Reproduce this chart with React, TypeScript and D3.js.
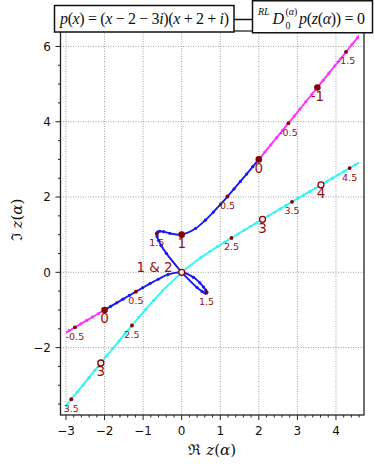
import { useEffect, useRef } from "react";
import * as d3 from "d3";

// roots z(alpha) of  RL D_0^(alpha) p(z) = 0 , stored as [Re z, Im z]
const magentaUpAlpha = [0, -0.1, -0.2, -0.3, -0.4, -0.5, -0.6, -0.7, -0.8, -0.9, -1, -1.1, -1.2, -1.3, -1.4, -1.5, -1.6, -1.7, -1.8];
const magentaUp: [number, number][] = [
  [2, 3], [2.1556, 3.1933], [2.3098, 3.3859], [2.4631, 3.5779], [2.6156, 3.7693], [2.7673, 3.9603],
  [2.9184, 4.1508], [3.0691, 4.3411], [3.2193, 4.5311], [3.3692, 4.7209], [3.5187, 4.9104],
  [3.6679, 5.0998], [3.8169, 5.2889], [3.9656, 5.478], [4.1141, 5.6669], [4.2625, 5.8556],
  [4.4107, 6.0443], [4.5587, 6.2329], [4.7066, 6.4213],
];
const magentaLoAlpha = [0, -0.1, -0.2, -0.3, -0.4, -0.5, -0.6, -0.7];
const magentaLo: [number, number][] = [
  [-2, -1], [-2.1556, -1.0933], [-2.3098, -1.1859], [-2.4631, -1.2779], [-2.6156, -1.3693],
  [-2.7673, -1.4603], [-2.9184, -1.5508], [-3.0691, -1.6411],
];
const blueAlpha = [0, 0.1, 0.2, 0.3, 0.4, 0.5, 0.6, 0.7, 0.8, 0.9, 1, 1.1, 1.2, 1.3, 1.4, 1.5, 1.6, 1.7, 1.8, 1.9, 2];
const blueUp: [number, number][] = [
  [2, 3], [1.8429, 2.8058], [1.6838, 2.6104], [1.5222, 2.4136], [1.3571, 2.2148], [1.1871, 2.0136],
  [1.0099, 1.809], [0.8213, 1.5997], [0.6122, 1.3841], [0.3587, 1.1633], [0, 1],
  [-0.3077, 1.035], [-0.4709, 1.0796], [-0.5669, 1.0909], [-0.6216, 1.0723], [-0.6442, 1.0262],
  [-0.6377, 0.9528], [-0.6009, 0.849], [-0.5274, 0.7068], [-0.3973, 0.5031], [0, 0],
];
const blueLo: [number, number][] = [
  [-2, -1], [-1.8429, -0.9058], [-1.6838, -0.8104], [-1.5222, -0.7136], [-1.3571, -0.6148], [-1.1871, -0.5136],
  [-1.0099, -0.409], [-0.8213, -0.2997], [-0.6122, -0.1841], [-0.3587, -0.0633], [0, 0],
  [0.3077, -0.135], [0.4709, -0.2796], [0.5669, -0.3909], [0.6216, -0.4723], [0.6442, -0.5262],
  [0.6377, -0.5528], [0.6009, -0.549], [0.5274, -0.5068], [0.3973, -0.4031], [0, 0],
];
const cyanUpAlpha = [2, 2.1, 2.2, 2.3, 2.4, 2.5, 2.6, 2.7, 2.8, 2.9, 3, 3.1, 3.2, 3.3, 3.4, 3.5, 3.6, 3.7, 3.8, 3.9, 4, 4.1, 4.2, 4.3, 4.4, 4.5, 4.6, 4.7];
const cyanUp: [number, number][] = [
  [0, 0], [0.4978, 0.392], [0.7336, 0.5543], [0.9333, 0.6858], [1.1164, 0.8032], [1.2901, 0.9127],
  [1.4577, 1.0172], [1.6211, 1.1182], [1.7815, 1.2167], [1.9396, 1.3133], [2.0959, 1.4086],
  [2.2508, 1.5027], [2.4046, 1.5959], [2.5574, 1.6883], [2.7095, 1.7802], [2.861, 1.8715],
  [3.0118, 1.9625], [3.1623, 2.053], [3.3123, 2.1432], [3.462, 2.2332], [3.6113, 2.3229],
  [3.7604, 2.4124], [3.9093, 2.5017], [4.0579, 2.5909], [4.2064, 2.6799], [4.3546, 2.7688],
  [4.5028, 2.8575], [4.6505, 2.9465],
];
const cyanLoAlpha = [2, 2.1, 2.2, 2.3, 2.4, 2.5, 2.6, 2.7, 2.8, 2.9, 3, 3.1, 3.2, 3.3, 3.4, 3.5, 3.6];
const cyanLo: [number, number][] = [
  [0, 0], [-0.4978, -0.492], [-0.7336, -0.7543], [-0.9333, -0.9858], [-1.1164, -1.2032], [-1.2901, -1.4127],
  [-1.4577, -1.6172], [-1.6211, -1.8182], [-1.7815, -2.0167], [-1.9396, -2.2133], [-2.0959, -2.4086],
  [-2.2508, -2.6027], [-2.4046, -2.7959], [-2.5574, -2.9883], [-2.7095, -3.1802], [-2.861, -3.3715],
  [-3.0118, -3.5625],
];

const xTicks = [-3, -2, -1, 0, 1, 2, 3, 4];
const yTicks = [-2, 0, 2, 4, 6];

const magenta = "#ff33ff";
const blue = "#1a1aee";
const cyan = "#33f5f5";
const darkred = "#8b0000";
const labelRed = "#9a0f0f";

function App() {
  const ref = useRef<SVGSVGElement>(null);

  useEffect(() => {
    document.body.style.margin = "0";
    const svg = d3.select(ref.current);
    svg.selectAll("*").remove();

    const left = 60.5, right = 364, top = 31, bottom = 415;
    const x = d3.scaleLinear().domain([-3.142, 4.727]).range([left, right]);
    const y = d3.scaleLinear().domain([-3.79, 6.41]).range([bottom, top]);

    const branches = [
      { name: "magUp", alpha: magentaUpAlpha, pts: magentaUp, color: magenta },
      { name: "magLo", alpha: magentaLoAlpha, pts: magentaLo, color: magenta },
      { name: "blueUp", alpha: blueAlpha, pts: blueUp, color: blue },
      { name: "blueLo", alpha: blueAlpha, pts: blueLo, color: blue },
      { name: "cyanUp", alpha: cyanUpAlpha, pts: cyanUp, color: cyan },
      { name: "cyanLo", alpha: cyanLoAlpha, pts: cyanLo, color: cyan },
    ];
    const at = (name: string, a: number) => {
      const b = branches.find((d) => d.name === name)!;
      const i = b.alpha.findIndex((v) => Math.abs(v - a) < 1e-9);
      return b.pts[i];
    };

    // ####### grid #######
    const grid = svg.append("g").attr("stroke", "#8a8a8a").attr("stroke-width", 0.8).attr("stroke-dasharray", "1,1.5");
    grid.selectAll(".gx").data(xTicks).enter().append("line")
      .attr("x1", (d) => x(d)).attr("x2", (d) => x(d)).attr("y1", top).attr("y2", bottom);
    grid.selectAll(".gy").data(yTicks).enter().append("line")
      .attr("y1", (d) => y(d)).attr("y2", (d) => y(d)).attr("x1", left).attr("x2", right);

    // ####### curves #######
    svg.append("clipPath").attr("id", "clip").append("rect")
      .attr("x", x(-3)).attr("y", top).attr("width", x(4.6) - x(-3)).attr("height", bottom - top);
    const curves = svg.append("g").attr("clip-path", "url(#clip)");
    const line = d3.line<[number, number]>()
      .x((d) => x(d[0])).y((d) => y(d[1]))
      .curve(d3.curveCatmullRom.alpha(0.5));
    branches.forEach((b) => {
      curves.append("path").attr("d", line(b.pts)).attr("fill", "none")
        .attr("stroke", b.color).attr("stroke-width", 1.9);
      curves.selectAll(null).data(b.pts).enter().append("circle")
        .attr("cx", (d) => x(d[0])).attr("cy", (d) => y(d[1])).attr("r", 1.6).attr("fill", b.color);
    });

    // ####### half-integer alpha markers #######
    const marks = svg.append("g");
    branches.forEach((b) => {
      b.alpha.forEach((a, i) => {
        const two = Math.round(a * 2);
        if (Math.abs(two - a * 2) > 1e-9 || two % 2 === 0) return;
        const p = b.pts[i];
        if (p[0] < -3 || p[0] > 4.6) return;
        marks.append("circle").attr("cx", x(p[0])).attr("cy", y(p[1])).attr("r", 1.9).attr("fill", darkred);
        marks.append("text").attr("x", x(p[0])).attr("y", y(p[1]) + 12.5)
          .attr("text-anchor", "middle").attr("font-family", "DejaVu Sans").attr("font-size", 9.5)
          .attr("fill", labelRed).text(String(a));
      });
    });

    // ####### integer alpha markers #######
    const filled: [string, number, string][] = [["magUp", 0, "0"], ["magLo", 0, "0"], ["magUp", -1, "-1"], ["blueUp", 1, "1"]];
    const hollow: [string, number, string][] = [["blueLo", 1, "1 & 2"], ["cyanUp", 3, "3"], ["cyanLo", 3, "3"], ["cyanUp", 4, "4"]];
    filled.forEach(([n, a, t]) => {
      const p = at(n, a);
      marks.append("circle").attr("cx", x(p[0])).attr("cy", y(p[1])).attr("r", 3.3).attr("fill", darkred);
      marks.append("text").attr("x", x(p[0])).attr("y", y(p[1]) + 13.5)
        .attr("text-anchor", "middle").attr("font-family", "DejaVu Sans").attr("font-size", 13.5)
        .attr("fill", labelRed).text(t);
    });
    hollow.forEach(([n, a, t]) => {
      const p = at(n, a);
      marks.append("circle").attr("cx", x(p[0])).attr("cy", y(p[1])).attr("r", 3)
        .attr("fill", "#f0f0f0").attr("stroke", darkred).attr("stroke-width", 1.3);
      const origin = t.includes("&");
      marks.append("text")
        .attr("x", x(p[0]) - (origin ? 9 : 0))
        .attr("y", y(p[1]) + (origin ? -0.5 : 13.5))
        .attr("text-anchor", origin ? "end" : "middle")
        .attr("font-family", "DejaVu Sans").attr("font-size", 13.5)
        .attr("fill", labelRed).text(t);
    });

    // ####### frame + ticks #######
    svg.append("rect").attr("x", left).attr("y", top).attr("width", right - left).attr("height", bottom - top)
      .attr("fill", "none").attr("stroke", "#222").attr("stroke-width", 1.3);
    const tk = svg.append("g").attr("stroke", "#222").attr("stroke-width", 1);
    const xMinor = d3.range(-3, 4.75, 0.2).filter((v) => Math.abs(v - Math.round(v)) > 1e-6);
    const yMinor = d3.range(-3.5, 6.4, 0.5).filter((v) => Math.abs(v / 2 - Math.round(v / 2)) > 1e-6);
    tk.selectAll(".xM").data(xTicks).enter().append("line")
      .attr("x1", (d) => x(d)).attr("x2", (d) => x(d)).attr("y1", bottom).attr("y2", bottom + 5);
    tk.selectAll(".xm").data(xMinor).enter().append("line")
      .attr("x1", (d) => x(d)).attr("x2", (d) => x(d)).attr("y1", bottom).attr("y2", bottom + 2.5);
    tk.selectAll(".yM").data(yTicks).enter().append("line")
      .attr("y1", (d) => y(d)).attr("y2", (d) => y(d)).attr("x1", left).attr("x2", left - 5);
    tk.selectAll(".ym").data(yMinor).enter().append("line")
      .attr("y1", (d) => y(d)).attr("y2", (d) => y(d)).attr("x1", left).attr("x2", left - 2.5);

    const fmt = (v: number) => (v < 0 ? "\u2212" + Math.abs(v) : String(v));
    svg.append("g").selectAll("text").data(xTicks).enter().append("text")
      .attr("x", (d) => x(d)).attr("y", 435).attr("text-anchor", "middle")
      .attr("font-family", "DejaVu Sans").attr("font-size", 12).attr("fill", "#111").text(fmt);
    svg.append("g").selectAll("text").data(yTicks).enter().append("text")
      .attr("x", 51).attr("y", (d) => y(d) + 4.3).attr("text-anchor", "end")
      .attr("font-family", "DejaVu Sans").attr("font-size", 12).attr("fill", "#111").text(fmt);

    // ####### axis labels #######
    const xl = svg.append("text").attr("x", (left + right) / 2).attr("y", 455).attr("text-anchor", "middle")
      .attr("font-family", "DejaVu Serif").attr("font-size", 15).attr("fill", "#111");
    xl.append("tspan").text("\u211C ");
    xl.append("tspan").attr("font-style", "italic").text("z");
    xl.append("tspan").text("(");
    xl.append("tspan").attr("font-style", "italic").text("\u03B1");
    xl.append("tspan").text(")");
    const yl = svg.append("text").attr("transform", "translate(22,220) rotate(-90)").attr("text-anchor", "middle")
      .attr("font-family", "DejaVu Serif").attr("font-size", 15).attr("fill", "#111");
    yl.append("tspan").text("\u2111 ");
    yl.append("tspan").attr("font-style", "italic").text("z");
    yl.append("tspan").text("(");
    yl.append("tspan").attr("font-style", "italic").text("\u03B1");
    yl.append("tspan").text(")");

    // ####### title boxes #######
    svg.append("line").attr("x1", 234).attr("x2", 252).attr("y1", 19.5).attr("y2", 19.5)
      .attr("stroke", "#111").attr("stroke-width", 1.5);
    svg.append("rect").attr("x", 54.5).attr("y", 5.5).attr("width", 179.5).attr("height", 26.5)
      .attr("fill", "white").attr("stroke", "#111").attr("stroke-width", 1.5);
    svg.append("rect").attr("x", 252.5).attr("y", 0.75).attr("width", 120).attr("height", 32)
      .attr("fill", "white").attr("stroke", "#111").attr("stroke-width", 1.5);

    const serif = "Liberation Serif";
    const t1 = svg.append("text").attr("x", 60).attr("y", 24).attr("font-family", serif).attr("font-size", 16)
      .attr("fill", "#111").attr("textLength", 169).attr("lengthAdjust", "spacing");
    const parts1: [string, boolean][] = [["p", true], ["(", false], ["x", true], [")", false], [" = (", false], ["x", true],
      [" \u2212 2 \u2212 3", false], ["i", true], [")(", false], ["x", true], [" + 2 + ", false], ["i", true], [")", false]];
    parts1.forEach(([s, it]) => t1.append("tspan").attr("font-style", it ? "italic" : "normal").text(s));

    const small = (tx: number, ty: number, s: string, it: boolean) =>
      svg.append("text").attr("x", tx).attr("y", ty).attr("font-family", serif).attr("font-size", 10)
        .attr("font-style", it ? "italic" : "normal").attr("fill", "#111").text(s);
    small(258, 15, "RL", true);
    svg.append("text").attr("x", 272.5).attr("y", 24).attr("font-family", serif).attr("font-size", 16)
      .attr("font-style", "italic").attr("fill", "#111").text("D");
    const sup = svg.append("text").attr("x", 285.5).attr("y", 14.5).attr("font-family", serif).attr("font-size", 10).attr("fill", "#111");
    sup.append("tspan").text("(");
    sup.append("tspan").attr("font-style", "italic").text("\u03B1");
    sup.append("tspan").text(")");
    small(285.5, 29, "0", false);
    const t2 = svg.append("text").attr("x", 299).attr("y", 24).attr("font-family", serif).attr("font-size", 16)
      .attr("fill", "#111").attr("textLength", 66).attr("lengthAdjust", "spacing");
    const parts2: [string, boolean][] = [["p", true], ["(", false], ["z", true], ["(", false], ["\u03B1", true], [")) = 0", false]];
    parts2.forEach(([s, it]) => t2.append("tspan").attr("font-style", it ? "italic" : "normal").text(s));
  }, []);

  return <svg ref={ref} width={374} height={470} style={{ display: "block" }} />;
}

export default App;
